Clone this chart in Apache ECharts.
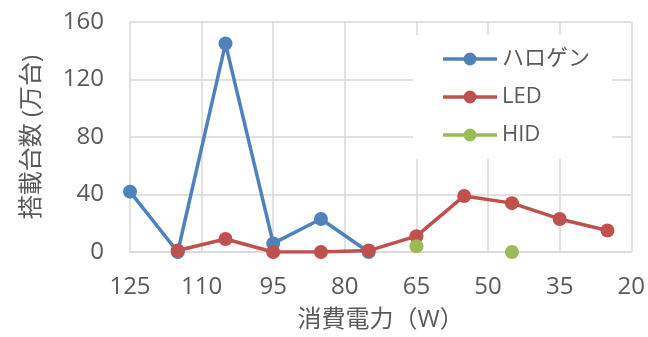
<!DOCTYPE html>
<html><head><meta charset="utf-8">
<script src="https://cdn.jsdelivr.net/npm/echarts@6/dist/echarts.min.js"></script>
<style>html,body{margin:0;padding:0;background:#fff}#c{width:648px;height:337px}</style>
</head><body><div id="c"></div>
<script>
const watts = [125, 115, 105, 95, 85, 75, 65, 55, 45, 35, 25];
const halogen = [42, 0, 145, 6, 23, 0, null, null, null, null, null];
const led = [null, 1, 9, 0, 0, 1, 11, 39, 34, 23, 15];
const hid = [null, null, null, null, null, null, 4, null, 0, null, null];
const xTicks = [20, 35, 50, 65, 80, 95, 110, 125];
const yTicks = [0, 40, 80, 120, 160];

const font = '"Open Sans", "Noto Sans CJK JP", sans-serif';
const grey = '#595959';
function pairs(vals){ const out=[]; watts.forEach((w,i)=>{ if(vals[i]!==null) out.push([w, vals[i]]); }); return out; }
const legendIcon = 'path://M0,4.75 L54,4.75 L54,8.25 L0,8.25 Z M33.5,6.5 A6.5,6.5 0 1,1 20.5,6.5 A6.5,6.5 0 1,1 33.5,6.5 Z';

const chart = echarts.init(document.getElementById('c'), null, {renderer:'canvas'});
const mk = (name, vals, color, showLine) => ({
  name, type:'line', data: pairs(vals), symbol:'circle', symbolSize:14,
  itemStyle:{color}, lineStyle:{color, width: showLine?3.5:0, opacity: showLine?1:0},
  connectNulls:false, animation:false, z: 3
});
chart.setOption({
  animation:false,
  textStyle:{fontFamily:font},
  grid:{left:130, right:16, top:22, bottom:83, containLabel:false},
  legend:{
    orient:'vertical', left:413, top:35,
    padding:[13,22,13,30], backgroundColor:'#fff',
    itemWidth:54, itemHeight:13, itemGap:16,
    textStyle:{fontFamily:font, fontSize:22, color:grey, padding:[0,0,0,0]},
    data:[
      {name:'ハロゲン', icon:legendIcon, itemStyle:{color:'#4F81BD'}},
      {name:'LED', icon:legendIcon, itemStyle:{color:'#C0504D'}},
      {name:'HID', icon:legendIcon, itemStyle:{color:'#9BBB59'}}
    ]
  },
  xAxis:{
    type:'value', inverse:true, min:xTicks[0], max:xTicks[xTicks.length-1], interval:15,
    name:'消費電力（W）', nameLocation:'middle', nameGap:56,
    nameTextStyle:{fontSize:24, color:grey, fontFamily:font},
    axisLine:{show:true, lineStyle:{color:'#d9d9d9', width:1.5}},
    axisTick:{show:false},
    axisLabel:{fontSize:24, color:grey, margin:23, showMinLabel:true, showMaxLabel:true},
    splitLine:{show:true, lineStyle:{color:'#d9d9d9', width:1.5}}
  },
  yAxis:{
    type:'value', min:yTicks[0], max:yTicks[yTicks.length-1], interval:40,
    name:'搭載台数 (万台)', nameLocation:'middle', nameGap:86, nameRotate:90,
    nameTextStyle:{fontSize:24, color:grey, fontFamily:font},
    axisLine:{show:false}, axisTick:{show:false},
    axisLabel:{fontSize:24, color:grey, margin:26},
    splitLine:{show:true, lineStyle:{color:'#d9d9d9', width:1.5}}
  },
  series:[
    mk('ハロゲン', halogen, '#4F81BD', true),
    mk('LED', led, '#C0504D', true),
    mk('HID', hid, '#9BBB59', false)
  ]
});
</script></body></html>
